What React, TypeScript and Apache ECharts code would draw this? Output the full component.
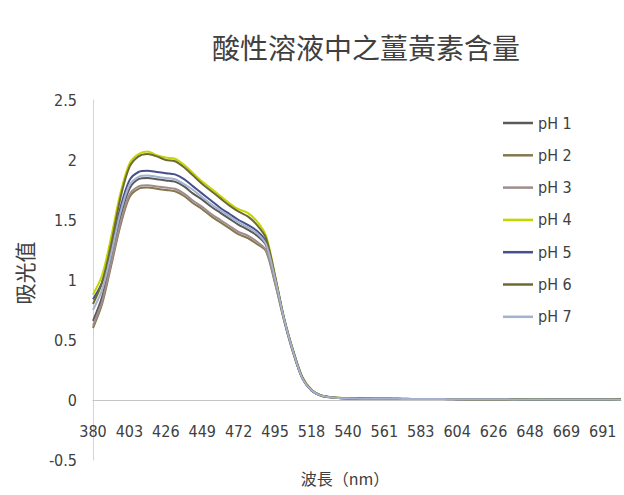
import React, { useEffect, useRef } from "react";
import * as echarts from "echarts";

const categories = [
  "380", "386", "392", "397", "403", "409", "415", "420", "426", "432", "438", "443",
  "449", "455", "461", "466", "472", "478", "484", "489", "495", "501", "507", "512",
  "518", "524", "529", "535", "540", "545", "551", "556", "561", "567", "572", "578",
  "583", "588", "594", "599", "604", "610", "615", "621", "626", "632", "637", "643",
  "648", "653", "659", "664", "669", "675", "680", "686", "691", "696", "700",
];

const xTickLabels = [
  "380", "403", "426", "449", "472", "495", "518", "540", "561", "583", "604", "626", "648", "669", "691",
];

const seriesNames = ["pH 1", "pH 2", "pH 3", "pH 4", "pH 5", "pH 6", "pH 7"];

const ph1 = [
  0.66, 0.86, 1.18, 1.52, 1.76, 1.84, 1.85, 1.84, 1.83, 1.82, 1.78, 1.72, 1.67, 1.61, 1.56, 1.51, 1.46, 1.42, 1.37, 1.29, 1.0,
  0.67, 0.4, 0.18, 0.08, 0.038, 0.023, 0.017, 0.014, 0.012, 0.011,
  0.01, 0.01, 0.01, 0.009, 0.009, 0.009, 0.008, 0.008, 0.008, 0.007,
  0.007, 0.007, 0.006, 0.006, 0.006, 0.006, 0.005, 0.005, 0.005, 0.005,
  0.005, 0.005, 0.004, 0.004, 0.004, 0.004, 0.004, 0.004,
];
const ph2 = [
  0.6, 0.8, 1.12, 1.45, 1.69, 1.76, 1.77, 1.76, 1.75, 1.74, 1.7, 1.64, 1.59, 1.53, 1.48, 1.43, 1.38, 1.35, 1.3, 1.24, 0.97,
  0.66, 0.39, 0.18, 0.08, 0.037, 0.022, 0.016, 0.013, 0.012, 0.011,
  0.01, 0.01, 0.009, 0.009, 0.009, 0.008, 0.008, 0.008, 0.007, 0.007,
  0.007, 0.006, 0.006, 0.006, 0.006, 0.005, 0.005, 0.005, 0.005, 0.005,
  0.004, 0.004, 0.004, 0.004, 0.004, 0.004, 0.003, 0.003,
];
const ph3 = [
  0.62, 0.82, 1.14, 1.47, 1.71, 1.78, 1.79, 1.78, 1.77, 1.76, 1.72, 1.66, 1.61, 1.55, 1.5, 1.45, 1.4, 1.37, 1.32, 1.25, 0.98,
  0.66, 0.39, 0.18, 0.08, 0.037, 0.022, 0.016, 0.013, 0.012, 0.011,
  0.01, 0.01, 0.009, 0.009, 0.009, 0.008, 0.008, 0.008, 0.007, 0.007,
  0.007, 0.007, 0.006, 0.006, 0.006, 0.005, 0.005, 0.005, 0.005, 0.005,
  0.005, 0.004, 0.004, 0.004, 0.004, 0.004, 0.004, 0.003,
];
const ph4 = [
  0.88, 1.04, 1.36, 1.72, 1.97, 2.05, 2.07, 2.04, 2.02, 2.01, 1.96, 1.89, 1.82, 1.76, 1.7, 1.64, 1.59, 1.56, 1.49, 1.37, 1.04,
  0.68, 0.41, 0.19, 0.085, 0.04, 0.025, 0.018, 0.015, 0.013, 0.012,
  0.011, 0.011, 0.01, 0.01, 0.009, 0.009, 0.009, 0.008, 0.008, 0.008,
  0.007, 0.007, 0.007, 0.007, 0.006, 0.006, 0.006, 0.006, 0.006, 0.005,
  0.005, 0.005, 0.005, 0.005, 0.005, 0.004, 0.004, 0.004,
];
const ph5 = [
  0.84, 0.98, 1.26, 1.6, 1.83, 1.9, 1.91, 1.9, 1.89, 1.88, 1.84, 1.78, 1.72, 1.66, 1.6, 1.55, 1.5, 1.46, 1.41, 1.32, 1.02,
  0.67, 0.4, 0.18, 0.082, 0.039, 0.024, 0.017, 0.014, 0.012, 0.011,
  0.011, 0.01, 0.01, 0.009, 0.009, 0.009, 0.008, 0.008, 0.008, 0.007,
  0.007, 0.007, 0.006, 0.006, 0.006, 0.006, 0.005, 0.005, 0.005, 0.005,
  0.005, 0.005, 0.004, 0.004, 0.004, 0.004, 0.004, 0.004,
];
const ph6 = [
  0.8, 0.98, 1.3, 1.68, 1.94, 2.03, 2.05, 2.03, 2.0, 1.99, 1.94, 1.87, 1.8, 1.74, 1.68, 1.62, 1.57, 1.53, 1.46, 1.35, 1.03,
  0.68, 0.41, 0.19, 0.084, 0.04, 0.024, 0.018, 0.015, 0.013, 0.012,
  0.011, 0.01, 0.01, 0.01, 0.009, 0.009, 0.008, 0.008, 0.008, 0.008,
  0.007, 0.007, 0.007, 0.006, 0.006, 0.006, 0.006, 0.005, 0.005, 0.005,
  0.005, 0.005, 0.005, 0.004, 0.004, 0.004, 0.004, 0.004,
];
const ph7 = [
  0.75, 0.92, 1.22, 1.56, 1.79, 1.86, 1.87, 1.86, 1.85, 1.84, 1.8, 1.75, 1.69, 1.63, 1.58, 1.53, 1.48, 1.44, 1.39, 1.3, 1.01,
  0.67, 0.4, 0.18, 0.081, 0.038, 0.023, 0.017, 0.014, 0.012, 0.011,
  0.01, 0.01, 0.01, 0.009, 0.009, 0.008, 0.008, 0.008, 0.007, 0.007,
  0.007, 0.007, 0.006, 0.006, 0.006, 0.005, 0.005, 0.005, 0.005, 0.005,
  0.005, 0.004, 0.004, 0.004, 0.004, 0.004, 0.004, 0.003,
];

const seriesValues = [ph1, ph2, ph3, ph4, ph5, ph6, ph7];
const seriesColors = ["#5a5a5a", "#857850", "#a08c8c", "#c2d600", "#46508c", "#6e6a32", "#a4b2cf"];

const numFont = '"Liberation Sans Narrow", "DejaVu Sans Condensed", "Liberation Sans", sans-serif';
const cjkFont = '"Noto Sans CJK TC", "Noto Sans CJK SC", sans-serif';

export default function App() {
  const ref = useRef<HTMLDivElement>(null);

  useEffect(() => {
    if (!ref.current) return;
    const chart = echarts.init(ref.current, null, { renderer: "svg" });
    chart.setOption({
      animation: false,
      backgroundColor: "#ffffff",
      grid: { left: 93, right: 3, top: 100, bottom: 35 },
      xAxis: {
        type: "category",
        data: categories,
        boundaryGap: false,
        offset: -60,
        axisLine: { onZero: false, lineStyle: { color: "#c4c4c4", width: 1 } },
        axisTick: { show: false },
        splitLine: { show: false },
        axisLabel: {
          interval: (_i: number, v: string) => xTickLabels.includes(v),
          margin: 23,
          fontSize: 16,
          fontFamily: numFont,
          color: "#404040",
        },
      },
      yAxis: {
        type: "value",
        min: -0.5,
        max: 2.5,
        interval: 0.5,
        axisLine: { show: true, lineStyle: { color: "#d4d4d4", width: 1 } },
        axisTick: { show: false },
        splitLine: { show: false },
        axisLabel: {
          margin: 16,
          fontSize: 16,
          fontFamily: numFont,
          color: "#404040",
        },
      },
      legend: {
        orient: "vertical",
        left: 498,
        top: 110,
        icon: "rect",
        itemWidth: 30,
        itemHeight: 2.5,
        itemGap: 16.3,
        data: seriesNames,
        textStyle: { fontSize: 16, fontFamily: numFont, color: "#404040" },
      },
      series: seriesNames.map((name, k) => ({
        name,
        type: "line",
        data: seriesValues[k],
        symbol: "none",
        smooth: 0.3,
        lineStyle: { width: 2, color: seriesColors[k] },
        itemStyle: { color: seriesColors[k] },
      })),
      graphic: [
        {
          type: "text",
          x: 366,
          y: 47,
          style: {
            text: "酸性溶液中之薑黃素含量",
            fontSize: 28,
            fontFamily: cjkFont,
            fill: "#404040",
            align: "center",
            verticalAlign: "middle",
          },
        },
        {
          type: "text",
          x: 24,
          y: 273,
          rotation: Math.PI / 2,
          style: {
            text: "吸光值",
            fontSize: 21,
            fontFamily: cjkFont,
            fill: "#404040",
            align: "center",
            verticalAlign: "middle",
          },
        },
        {
          type: "text",
          x: 345,
          y: 478,
          style: {
            text: "波長（nm）",
            fontSize: 16,
            fontFamily: cjkFont,
            fill: "#404040",
            align: "center",
            verticalAlign: "middle",
          },
        },
      ],
    });
    return () => chart.dispose();
  }, []);

  return (
    <div
      ref={ref}
      style={{ position: "fixed", left: 0, top: 0, width: 624, height: 495 }}
    />
  );
}
